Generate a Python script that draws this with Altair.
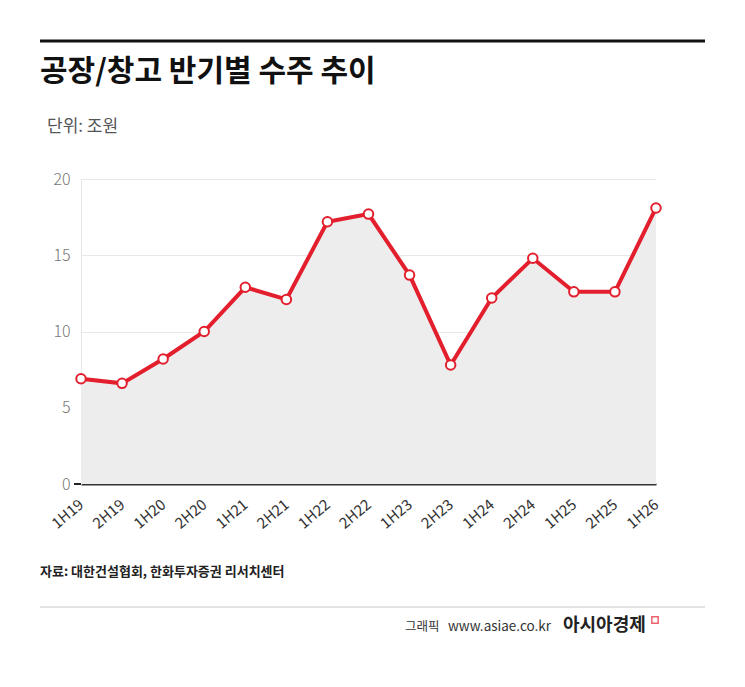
import pandas as pd
import altair as alt

FONT = "Noto Sans CJK KR"
RED = "#e31f2e"

periods = ["1H19", "2H19", "1H20", "2H20", "1H21", "2H21", "1H22", "2H22",
           "1H23", "2H23", "1H24", "2H24", "1H25", "2H25", "1H26"]
orders = [6.9, 6.6, 8.2, 10.0, 12.9, 12.1, 17.2, 17.7,
          13.7, 7.8, 12.2, 14.8, 12.6, 12.6, 18.1]
y_ticks = [0, 5, 10, 15, 20]

title_text = "공장/창고 반기별 수주 추이"
unit_text = "단위: 조원"
source_text = "자료: 대한건설협회, 한화투자증권 리서치센터"
credit_text = "그래픽"
site_text = "www.asiae.co.kr"
brand_text = "아시아경제"

df = pd.DataFrame({"period": periods, "value": orders})

W, H = 575, 305

x = alt.X("period:O", sort=periods, scale=alt.Scale(type="point", padding=0),
          axis=alt.Axis(title=None, labelAngle=320, labelAlign="right", labelBaseline="middle",
                        labelPadding=18, labelFontSize=15, labelColor="#333", ticks=False,
                        domainColor="#333", domainWidth=2, grid=False, labelFont=FONT))
y = alt.Y("value:Q", scale=alt.Scale(domain=[0, 20], nice=False),
          axis=alt.Axis(title=None, values=y_ticks, labelFontSize=16, labelColor="#777",
                        labelFontWeight=300, ticks=False, labelPadding=11,
                        domainColor="#e6e6e6", gridColor="#e8e8e8", labelFont=FONT))

base = alt.Chart(df)
area = base.mark_area(color="#ededed", opacity=1).encode(x=x, y=y)
line = base.mark_line(color=RED, strokeWidth=4).encode(x=x, y=y)
pts = base.mark_point(filled=True, fill="white", stroke=RED, strokeWidth=2,
                      size=90, opacity=1).encode(x=x, y=y)


def label(txt, px, py, size, color="#222", weight="normal", align="left"):
    return alt.Chart(pd.DataFrame({"t": [txt]})).mark_text(
        font=FONT, fontSize=size, color=color, fontWeight=weight,
        align=align, baseline="middle"
    ).encode(text="t:N", x=alt.value(px), y=alt.value(py))


def hrule(x1, x2, py, color, width):
    return alt.Chart(pd.DataFrame({"a": [0]})).mark_rule(color=color, strokeWidth=width).encode(
        x=alt.value(x1), x2=alt.value(x2), y=alt.value(py))


deco = [
    hrule(-41, 624, -138, "#111", 3),
    label(title_text, -41, -107, 30, "#111", "bold"),
    label(unit_text, -34, -52, 17, "#555"),
    hrule(-7, 0, H, "#222", 2),
    label(source_text, -41, 393, 13, "#222", "bold"),
    hrule(-41, 624, 428, "#e3e3e3", 2),
    label(credit_text, 324, 448, 12.5, "#333"),
    label(site_text, 367, 448, 13.5, "#333"),
    label(brand_text, 482, 447, 18, "#222", "bold"),
    alt.Chart(pd.DataFrame({"a": [0]})).mark_point(
        shape="square", filled=False, stroke=RED, strokeWidth=1.5, size=40
    ).encode(x=alt.value(574), y=alt.value(441)),
]

chart = alt.layer(area, line, pts, *deco).properties(
    width=W, height=H,
    autosize=alt.AutoSizeParams(type="none"),
    padding={"left": 73, "top": 171, "right": 81, "bottom": 185},
    background="white",
).configure_view(stroke=None)

chart.save("out.html", embed_options={"renderer": "svg", "actions": False})
